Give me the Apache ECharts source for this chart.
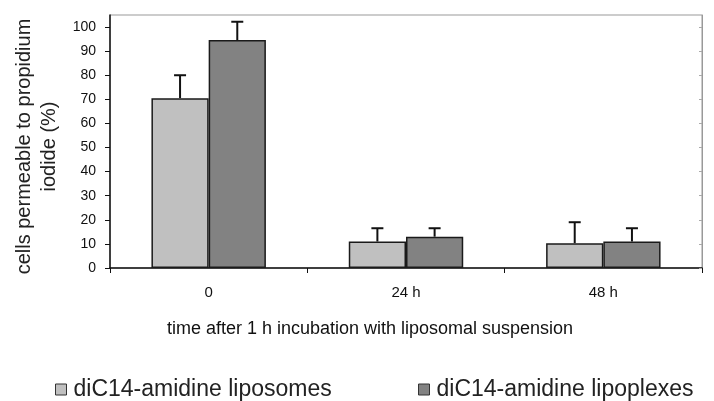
<!DOCTYPE html>
<html>
<head>
<meta charset="utf-8">
<script src="https://cdn.jsdelivr.net/npm/echarts@6/dist/echarts.min.js"></script>
<style>
  html, body { margin: 0; padding: 0; background: #fff; }
  #main { width: 714px; height: 401px; }
</style>
</head>
<body>
<div id="main"></div>
<script>
// data
const categories = ['0', '24 h', '48 h'];
const liposomes = [70.5, 11, 10.3];
const liposomesErr = [80, 16.5, 19];      // top of error bar
const lipoplexes = [94.6, 13, 11];
const lipoplexesErr = [102.2, 16.5, 16.5];
const yTicks = [0, 10, 20, 30, 40, 50, 60, 70, 80, 90, 100];

const FONT = "'Liberation Sans', Arial, sans-serif";
const BAR_W = 0.29; // fraction of category band

function errorBars(values, tops, side) {
    return {
        type: 'custom',
        z: 5,
        data: values.map((v, i) => [i, v, tops[i]]),
        renderItem: function (params, api) {
            let band = api.size([1, 0])[0];
            let base = api.coord([api.value(0), api.value(1)]);
            let top = api.coord([api.value(0), api.value(2)]);
            let x = base[0] + side * band * BAR_W / 2;
            let style = { stroke: '#111', lineWidth: 2 };
            return {
                type: 'group',
                children: [
                    { type: 'line', shape: { x1: x, y1: base[1], x2: x, y2: top[1] }, style: style },
                    { type: 'line', shape: { x1: x - 6, y1: top[1], x2: x + 6, y2: top[1] }, style: style }
                ]
            };
        }
    };
}

function legendFor(name, left) {
    return {
        data: [name],
        left: left, top: 378,
        padding: 0,
        icon: 'rect', itemWidth: 11, itemHeight: 11,
        itemStyle: { borderColor: '#333', borderWidth: 1 },
        textStyle: { fontFamily: FONT, fontSize: 23, color: '#222', padding: [0, 0, 0, 2] }
    };
}

let myChart = echarts.init(document.getElementById('main'));
let option = {
    backgroundColor: '#fff',
    animation: false,
    textStyle: { fontFamily: FONT },
    grid: {
        left: 110, right: 12, top: 15, bottom: 133,
        show: true, borderColor: '#999', borderWidth: 1
    },
    legend: [
        legendFor('diC14-amidine liposomes', 55),
        legendFor('diC14-amidine lipoplexes', 418)
    ],
    xAxis: {
        type: 'category',
        data: categories,
        name: 'time after 1 h incubation with liposomal suspension',
        nameLocation: 'middle',
        nameGap: 52,
        nameTextStyle: { fontFamily: FONT, fontSize: 18, color: '#111', padding: [0, 72, 0, 0] },
        axisLine: { lineStyle: { color: '#111', width: 1.5 } },
        axisTick: { show: true, length: 5, lineStyle: { color: '#111' } },
        axisLabel: { margin: 17, fontFamily: FONT, fontSize: 15, color: '#111' }
    },
    yAxis: [{
        type: 'value',
        min: 0, max: 105,
        name: 'cells permeable to propidium\niodide (%)',
        nameLocation: 'middle',
        nameGap: 42,
        nameTextStyle: { fontFamily: FONT, fontSize: 20, color: '#222', lineHeight: 25, padding: [0, 10, 0, 0] },
        axisLine: { show: true, lineStyle: { color: '#111', width: 1.5 } },
        axisTick: { show: true, length: 5, customValues: yTicks, lineStyle: { color: '#111' } },
        axisLabel: { margin: 14, customValues: yTicks, fontFamily: FONT, fontSize: 14, color: '#111' },
        splitLine: { show: false }
    }, {
        type: 'value',
        position: 'right',
        min: 0, max: 105,
        axisLine: { show: true, lineStyle: { color: '#999' } },
        axisTick: { show: true, inside: true, length: 3, customValues: yTicks, lineStyle: { color: '#aaa' } },
        axisLabel: { show: false },
        splitLine: { show: false }
    }],
    series: [{
        name: 'diC14-amidine liposomes',
        type: 'bar',
        data: liposomes,
        barWidth: (BAR_W * 100) + '%',
        barGap: '0%',
        itemStyle: { color: '#c0c0c0', borderColor: '#1a1a1a', borderWidth: 1.5 }
    }, {
        name: 'diC14-amidine lipoplexes',
        type: 'bar',
        data: lipoplexes,
        barWidth: (BAR_W * 100) + '%',
        barGap: '0%',
        itemStyle: { color: '#828282', borderColor: '#1a1a1a', borderWidth: 1.5 }
    },
    errorBars(liposomes, liposomesErr, -1),
    errorBars(lipoplexes, lipoplexesErr, 1)]
};
myChart.setOption(option);
</script>
</body>
</html>
